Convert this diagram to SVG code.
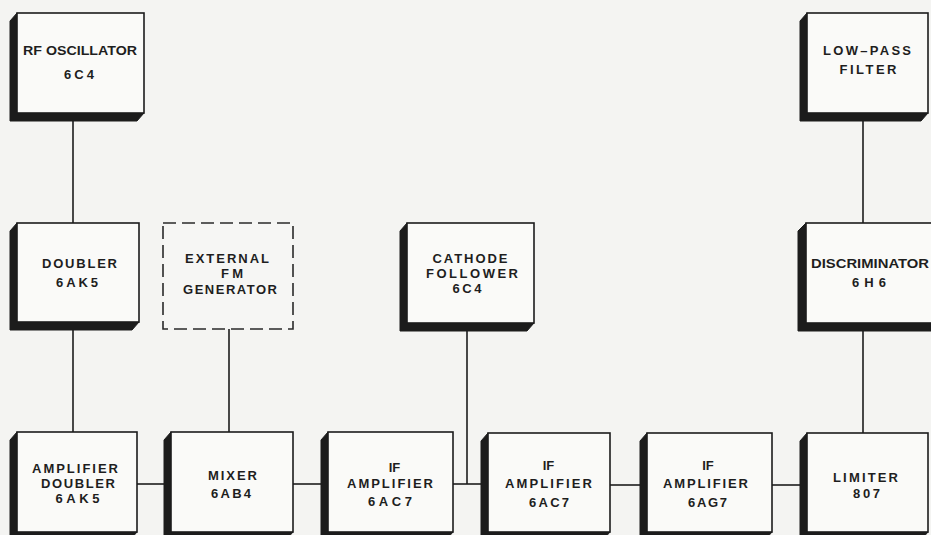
<svg xmlns="http://www.w3.org/2000/svg" width="931" height="535" viewBox="0 0 931 535">
<style>
.bg{fill:#f4f4f2}
.sh{fill:#1c1c1c;stroke:#1c1c1c;stroke-width:1;stroke-linejoin:round}
.face{fill:#fafaf8;stroke:#1c1c1c;stroke-width:1.6}
.dash{fill:#f6f6f4;stroke:#2a2a2a;stroke-width:1.6;stroke-dasharray:13 6}
.t{font-family:"Liberation Sans",Arial,sans-serif;font-weight:bold;font-size:13px;fill:#1e1e1e;text-anchor:middle}
.ln{stroke:#1c1c1c;stroke-width:1.6;fill:none}
</style>
<rect class="bg" x="0" y="0" width="931" height="535"/>
<g id="connectors">
<line class="ln" x1="73" y1="121" x2="73" y2="223"/>
<line class="ln" x1="73" y1="329" x2="73" y2="432"/>
<line class="ln" x1="229" y1="329" x2="229" y2="432"/>
<line class="ln" x1="467" y1="331" x2="467" y2="484"/>
<line class="ln" x1="863" y1="121" x2="863" y2="223"/>
<line class="ln" x1="863" y1="331" x2="863" y2="433"/>
<line class="ln" x1="137" y1="484" x2="164" y2="484"/>
<line class="ln" x1="293" y1="484" x2="321" y2="484"/>
<line class="ln" x1="453" y1="484" x2="481" y2="484"/>
<line class="ln" x1="610" y1="485" x2="640" y2="485"/>
<line class="ln" x1="772" y1="485" x2="800" y2="485"/>
</g>
<g id="rf-oscillator">
<polygon class="sh" points="17,13 10,21 10,121 137,121 144,113"/>
<rect class="face" x="17" y="13" width="127" height="100"/>
<text class="t" x="80" y="55" textLength="114" lengthAdjust="spacingAndGlyphs">RF OSCILLATOR</text>
<text class="t" x="79" y="79" textLength="30">6C4</text>
</g>
<g id="doubler">
<polygon class="sh" points="17,223 10,231 10,330 132,330 139,322"/>
<rect class="face" x="17" y="223" width="122" height="99"/>
<text class="t" x="79.5" y="268" textLength="75">DOUBLER</text>
<text class="t" x="77" y="287" textLength="42">6AK5</text>
</g>
<g id="external-fm-generator">
<rect class="dash" x="163" y="223" width="130" height="106"/>
<text class="t" x="227" y="263" textLength="84">EXTERNAL</text>
<text class="t" x="232" y="278" textLength="22">F M</text>
<text class="t" x="230" y="294" textLength="94">GENERATOR</text>
</g>
<g id="cathode-follower">
<polygon class="sh" points="407,223 400,231 400,331 527,331 534,323"/>
<rect class="face" x="407" y="223" width="127" height="100"/>
<text class="t" x="470" y="263" textLength="75">CATHODE</text>
<text class="t" x="472" y="278" textLength="92">FOLLOWER</text>
<text class="t" x="467" y="293" textLength="29">6C4</text>
</g>
<g id="low-pass-filter">
<polygon class="sh" points="807,13 800,21 800,121 921,121 928,113"/>
<rect class="face" x="807" y="13" width="121" height="100"/>
<text class="t" x="867" y="55" textLength="88">LOW–PASS</text>
<text class="t" x="868" y="74" textLength="57">FILTER</text>
</g>
<g id="discriminator">
<polygon class="sh" points="806,223 798,231 798,331 931,331 931,323"/>
<rect class="face" x="806" y="223" width="135" height="100"/>
<text class="t" x="870" y="268" textLength="118" lengthAdjust="spacingAndGlyphs">DISCRIMINATOR</text>
<text class="t" x="869" y="287" textLength="34">6H6</text>
</g>
<g id="amplifier-doubler">
<polygon class="sh" points="17,432 10,440 10,540 130,540 137,532"/>
<rect class="face" x="17" y="432" width="120" height="100"/>
<text class="t" x="75" y="473" textLength="86">AMPLIFIER</text>
<text class="t" x="78" y="488" textLength="74">DOUBLER</text>
<text class="t" x="77.5" y="503" textLength="44">6AK5</text>
</g>
<g id="mixer">
<polygon class="sh" points="171,432 164,440 164,540 286,540 293,532"/>
<rect class="face" x="171" y="432" width="122" height="100"/>
<text class="t" x="232.5" y="480" textLength="49">MIXER</text>
<text class="t" x="231" y="498" textLength="40">6AB4</text>
</g>
<g id="if-amplifier-1">
<polygon class="sh" points="328,432 321,440 321,540 446,540 453,532"/>
<rect class="face" x="328" y="432" width="125" height="100"/>
<text class="t" x="394.5" y="472">IF</text>
<text class="t" x="390" y="488" textLength="86">AMPLIFIER</text>
<text class="t" x="390" y="506" textLength="44">6AC7</text>
</g>
<g id="if-amplifier-2">
<polygon class="sh" points="488,433 481,441 481,540 603,540 610,532"/>
<rect class="face" x="488" y="433" width="122" height="99"/>
<text class="t" x="548.5" y="470">IF</text>
<text class="t" x="548.5" y="488" textLength="87">AMPLIFIER</text>
<text class="t" x="549" y="507" textLength="40">6AC7</text>
</g>
<g id="if-amplifier-3">
<polygon class="sh" points="647,433 640,441 640,540 765,540 772,532"/>
<rect class="face" x="647" y="433" width="125" height="99"/>
<text class="t" x="708" y="470">IF</text>
<text class="t" x="705.5" y="488" textLength="85">AMPLIFIER</text>
<text class="t" x="707.5" y="507" textLength="39">6AG7</text>
</g>
<g id="limiter">
<polygon class="sh" points="807,433 800,441 800,540 921,540 928,532"/>
<rect class="face" x="807" y="433" width="121" height="99"/>
<text class="t" x="865.5" y="482" textLength="65">LIMITER</text>
<text class="t" x="866.5" y="498" textLength="27">807</text>
</g>
</svg>
